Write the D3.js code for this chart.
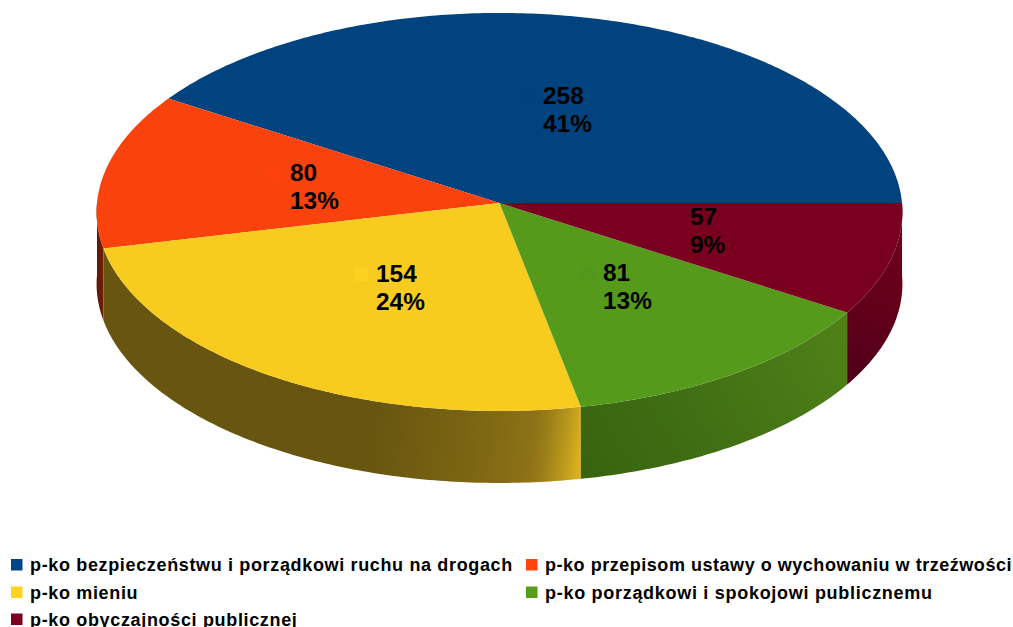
<!DOCTYPE html>
<html><head><meta charset="utf-8">
<script src="https://cdn.jsdelivr.net/npm/d3@7/dist/d3.min.js"></script>
<style>html,body{margin:0;padding:0;background:#fff;overflow:hidden}svg{display:block}text{font-family:"Liberation Sans",Arial,sans-serif;font-weight:bold;fill:#000}</style>
</head><body><svg id="c" width="1013" height="627"></svg>
<script>
const categories=["p-ko bezpieczeństwu i porządkowi ruchu na drogach","p-ko przepisom ustawy o wychowaniu w trzeźwości","p-ko mieniu","p-ko porządkowi i spokojowi publicznemu","p-ko obyczajności publicznej"];
const values=[258,80,154,81,57];
const percentLabels=["41%","13%","24%","13%","9%"];
const keyColors=["#004586","#ff420e","#ffd320","#579d1c","#7e0021"];
const topColors=["#00437f","#fa420d","#f8cc1f","#559a1b","#7a0020"];
const labelKeyColors=["#00427c","#ff420e","#ffd320","#52971a","#7a0020"];

// layout
const cx=499.5,cy=203,rx=402.5,ry=198.6,tilt=0.045,depth=72;
const labelAt=[[543,104],[290,181],[376,282],[603,281],[690,225]];
const legendSpacing=[0.65,0.53,0.66,0.71,0.66];
const sideGrad=[null,[97,0,105,0],[104,380,581,440],[590,480,850,330],[848,380,902,240]];
const sideStops=[
 [],
 [[0,"#5e1a08"],[1,"#7a1e06"]],
 [[0,"#675510"],[0.56,"#675510"],[0.76,"#7a6412"],[0.9,"#8d7216"],[0.93,"#9d7f18"],[0.97,"#bb981c"],[1,"#d8b020"]],
 [[0,"#38640f"],[0.35,"#3f6d13"],[1,"#508118"]],
 [[0,"#50001a"],[0.5,"#62001a"],[1,"#6c001d"]]
];
const svg=d3.select("#c"),defs=svg.append("defs");
const pie=d3.pie().sort(null).value(d=>d).startAngle(0).endAngle(2*Math.PI);
const arcs=pie(values);
// counter-clockwise from 3 o'clock, perspective tilt of a flat disc
const pt=(a,dz=0)=>{const v=-Math.sin(a),w=1-tilt*v;
  return [cx+rx*Math.cos(a)/w,cy+ry*v/w+dz];};
const samples=(a0,a1)=>{const n=Math.max(2,Math.ceil((a1-a0)*80));return d3.range(n+1).map(i=>a0+(a1-a0)*i/n);};
const line=d3.line();
const topPath=(a0,a1)=>line([[cx,cy],...samples(a0,a1).map(a=>pt(a))])+"Z";
const sidePath=(a0,a1)=>{const s=samples(a0,a1);return line([...s.map(a=>pt(a)),...s.slice().reverse().map(a=>pt(a,depth))])+"Z";};

const g=svg.append("g");
const PI=Math.PI;
[1,4,2,3].forEach(i=>{
  const lo=Math.max(arcs[i].startAngle,PI),hi=Math.min(arcs[i].endAngle,2*PI);
  if(hi<=lo)return;
  const id="side"+i,v=sideGrad[i];
  const gr=defs.append("linearGradient").attr("id",id).attr("gradientUnits","userSpaceOnUse")
    .attr("x1",v[0]).attr("y1",v[1]).attr("x2",v[2]).attr("y2",v[3]);
  sideStops[i].forEach(s=>gr.append("stop").attr("offset",s[0]).attr("stop-color",s[1]));
  g.append("path").attr("d",sidePath(lo,hi)).attr("fill",`url(#${id})`);
});
arcs.forEach((d,i)=>{
  g.append("path").attr("d",topPath(d.startAngle,d.endAngle)).attr("fill",topColors[i]);
});

const lab=svg.append("g");
values.forEach((v,i)=>{
  const [x,y]=labelAt[i];
  lab.append("rect").attr("x",x-22).attr("y",y-14.5).attr("width",14).attr("height",13.5).attr("fill",labelKeyColors[i]).attr("opacity",.7);
  lab.append("text").attr("x",x).attr("y",y).attr("font-size",24.4).text(v);
  lab.append("text").attr("x",x).attr("y",y+28).attr("font-size",24.4).text(percentLabels[i]);
});

const legendCol=[11,526],legendRow=[559,586.5,613.5];
const leg=svg.append("g");
categories.forEach((c,i)=>{
  const col=i%2,row=Math.floor(i/2);
  leg.append("rect").attr("x",legendCol[col]).attr("y",legendRow[row]).attr("width",11.5).attr("height",11.5).attr("fill",keyColors[i]);
  leg.append("text").attr("x",legendCol[col]+19).attr("y",legendRow[row]+12).attr("font-size",18).attr("letter-spacing",legendSpacing[i]).text(c);
});
</script></body></html>
